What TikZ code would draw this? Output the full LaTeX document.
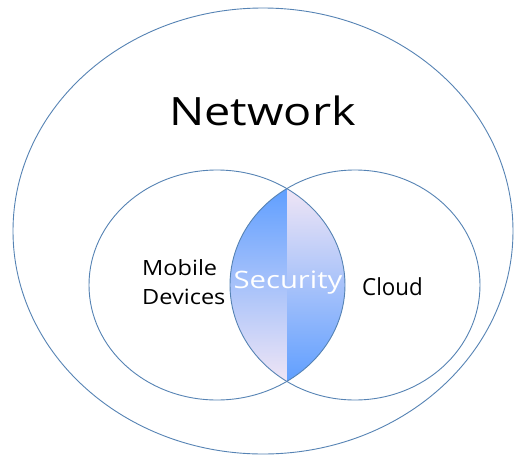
\documentclass[tikz,border=0pt]{standalone}
\usepackage{fontspec}
\setmainfont{Open Sans}
\definecolor{ringline}{HTML}{5683B4}
\definecolor{lensblue}{HTML}{5E9EFF}
\definecolor{lensmid}{HTML}{8CC2FA}
\definecolor{lensgrey}{HTML}{B4CDEA}
\definecolor{lenslav}{HTML}{F1E6F5}
\tikzset{
  ring/.style={draw=ringline, line width=0.9pt},
  label/.style={inner sep=0pt, anchor=base, text=black},
}
\begin{document}
\begin{tikzpicture}[x=1pt,y=-1pt]
  \useasboundingbox[fill=white] (0,0) rectangle (515,456);

  % shaded overlap of the two inner rings, split into two halves
  \begin{scope}
    \clip (217,285) ellipse [x radius=128, y radius=115];
    \clip (355,285) ellipse [x radius=125, y radius=115];
    \begin{scope}
      \clip (0,0) rectangle (287.5,456);
      \shade[top color=lensblue, middle color=lensmid, bottom color=lenslav]
        (220,186) rectangle (290,384);
    \end{scope}
    \begin{scope}
      \clip (287.5,0) rectangle (515,456);
      \shade[top color=lenslav, middle color=lensgrey, bottom color=lensblue]
        (285,186) rectangle (360,384);
    \end{scope}
  \end{scope}

  % rings
  \draw[ring] (263,231) ellipse [x radius=250, y radius=223];
  \draw[ring] (217,285) ellipse [x radius=128, y radius=115];
  \draw[ring] (355,285) ellipse [x radius=125, y radius=115];

  % labels
  \node[label, xscale=1.2, font=\fontsize{39}{39}\selectfont] (network)
    at (262.5,125) {Network};
  \node[label, xscale=1.12, align=left, anchor=north west,
        font=\fontsize{21}{29}\selectfont] (mobile) at (142,259)
    {Mobile\\Devices};
  \node[label, xscale=1.22, text=white, font=\fontsize{24}{24}\selectfont]
    (security) at (288,288) {Security};
  \node[label, xscale=0.95, font=\fontsize{23.5}{24}\selectfont] (cloud)
    at (392.5,295) {Cloud};
\end{tikzpicture}
\end{document}
